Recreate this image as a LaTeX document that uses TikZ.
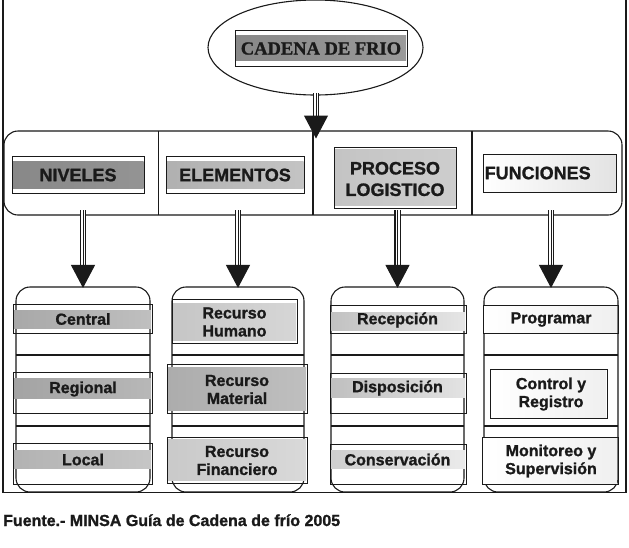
\documentclass[tikz,border=0pt]{standalone}
\usepackage{fontspec}
\setmainfont{Liberation Sans}
\newfontfamily\heavy{Liberation Sans Bold}[FakeBold=1.2]
\newfontfamily\serifbold{Liberation Serif Bold}[FakeBold=1.0]
\usetikzlibrary{shapes.geometric,arrows.meta,calc}
\definecolor{ink}{HTML}{1A1A1A}
\definecolor{gA}{HTML}{888888}
\definecolor{gB}{HTML}{B0B0B0}
\definecolor{gC}{HTML}{C4C4C4}
\tikzset{
  ln/.style={draw=ink, line width=1.1pt},
  outline/.style={draw=ink, line width=1pt, inner sep=0pt, fill=none},
  band/.style={draw=none, inner sep=0pt},
  colbox/.style={draw=ink, line width=1.1pt, rounded corners=14pt, inner sep=0pt},
  lbl/.style={font=\heavy\fontsize{16}{18}\selectfont, text=ink, align=center, inner sep=0pt},
  hdr/.style={font=\heavy\fontsize{18}{21.5}\selectfont, text=ink, align=center, inner sep=0pt},
  shaft/.style={draw=ink, line width=1.1pt, double=white, double distance=4pt, shorten >=21pt},
  arrowline/.style={draw=ink, line width=1pt, -{Triangle[width=24pt,length=23pt]}},
}
\begin{document}
\begin{tikzpicture}[x=1pt,y=-1pt]
\useasboundingbox (0,0) rectangle (629,547);
\fill[white] (0,0) rectangle (629,547);
% outer frame
\draw[ln] (3,-2) -- (3,492.5) -- (626,492.5) -- (626,-2);

% ellipse and title
\node[ellipse, draw=ink, line width=1.1pt, fill=white, minimum width=215pt, minimum height=95pt, inner sep=0pt] (ell) at (315.5,47.5) {};
\node[band, left color=gA, right color=gA!85!white, minimum width=170pt, minimum height=25pt] (tband) at (321,47.5) {};
\node[outline, minimum width=172pt, minimum height=36pt] (tbox) at (321,48) {};
\node[font=\serifbold\fontsize{18.5}{20}\selectfont, text=ink, inner sep=0pt] (title) at (321,48.5) {CADENA DE FRIO};

% banner
\node[colbox, fill=white, minimum width=618pt, minimum height=84pt] (banner) at (313,173) {};
\draw[ln] (158.5,131) -- (158.5,215);
\draw[ln] (313,131) -- (313,215);
\draw[ln] (472,131) -- (472,215);

% header boxes
\node[band, left color=gA, right color=gA!90!white, minimum width=131pt, minimum height=27pt] (hb1) at (78,174.5) {};
\node[outline, minimum width=132pt, minimum height=37pt] (h1box) at (78,174.5) {};
\node[hdr] (h1) at (78,175) {NIVELES};

\node[band, left color=gB, right color=gB!75!white, minimum width=137pt, minimum height=27pt] (hb2) at (235,174.5) {};
\node[outline, minimum width=138pt, minimum height=37pt] (h2box) at (235,174.5) {};
\node[hdr] (h2) at (235,175) {ELEMENTOS};

\node[band, left color=gC, right color=gC!85!white, minimum width=121pt, minimum height=56pt] (hb3) at (395,177.5) {};
\node[outline, minimum width=122pt, minimum height=61pt] (h3box) at (395,177.5) {};
\node[hdr] (h3) at (395,179) {PROCESO\\LOGISTICO};

\node[band, left color=white, right color=gray!22, minimum width=132pt, minimum height=37pt] (hb4) at (549.5,173) {};
\node[outline, minimum width=133pt, minimum height=38pt] (h4box) at (549.5,173) {};
\node[hdr, anchor=west] (h4) at (484.5,173) {FUNCIONES};

% columns
\node[colbox, minimum width=134pt, minimum height=205pt] (col1) at (83,389.5) {};
\node[colbox, minimum width=132pt, minimum height=205pt] (col2) at (238,389.5) {};
\node[colbox, minimum width=133pt, minimum height=205pt] (col3) at (397.5,389.5) {};
\node[colbox, minimum width=134pt, minimum height=205pt] (col4) at (551,389.5) {};

\foreach \a/\b in {16/150,172/304,331/464,484/618}{
  \draw[ln] (\a,355) -- (\b,355);
  \draw[ln] (\a,426) -- (\b,426);
}

% arrows
\coordinate (s0) at (316,93);
\coordinate (t0) at (316,138.5);
\draw[shaft] (s0) -- (t0);
\draw[arrowline] (s0) -- (t0);

\coordinate (s1) at (83,210);
\coordinate (s2) at (238,210);
\coordinate (s3) at (397.5,210);
\coordinate (s4) at (551,210);
\foreach \i in {1,2,3,4}{
  \draw[shaft] (s\i) -- ($(col\i.north)+(0,1.5)$);
  \draw[arrowline] (s\i) -- ($(col\i.north)+(0,1.5)$);
}

% column 1
\node[band, left color=gray!68, right color=gray!50, minimum width=137pt, minimum height=18pt] (b11) at (82.5,319) {};
\node[outline, minimum width=139pt, minimum height=29pt] (x11) at (82.5,318.5) {};
\node[lbl] (l11) at (83,319) {Central};
\node[band, left color=gray!72, right color=gray!56, minimum width=137pt, minimum height=20pt] (b12) at (82.5,388.5) {};
\node[outline, minimum width=139pt, minimum height=41pt] (x12) at (82.5,392.5) {};
\node[lbl] (l12) at (83,389) {Regional};
\node[band, left color=gray!60, right color=gray!45, minimum width=137pt, minimum height=18pt] (b13) at (82.5,459) {};
\node[outline, minimum width=139pt, minimum height=41pt] (x13) at (82.5,463.5) {};
\node[lbl] (l13) at (83,459.5) {Local};

% column 2
\node[band, left color=gray!45, right color=gray!32, minimum width=123pt, minimum height=37pt] (b21) at (234.5,321.5) {};
\node[outline, minimum width=125pt, minimum height=44pt] (x21) at (234.5,321) {};
\node[lbl] (l21) at (234.5,322) {Recurso\\Humano};
\node[band, left color=gray!65, right color=gray!50, minimum width=138pt, minimum height=43pt] (b22) at (237,388.5) {};
\node[outline, minimum width=140pt, minimum height=49pt] (x22) at (237,388.5) {};
\node[lbl] (l22) at (237,389.5) {Recurso\\Material};
\node[band, left color=gray!42, right color=gray!30, minimum width=138pt, minimum height=41pt] (b23) at (237,459.5) {};
\node[outline, minimum width=140pt, minimum height=46pt] (x23) at (237,460) {};
\node[lbl] (l23) at (237,460.5) {Recurso\\Financiero};

% column 3
\node[band, left color=gray!48, right color=gray!20, minimum width=134pt, minimum height=18pt] (b31) at (398,321) {};
\node[outline, minimum width=136pt, minimum height=28pt] (x31) at (398,319) {};
\node[lbl] (l31) at (397.5,320) {Recepción};
\node[band, left color=gray!50, right color=gray!22, minimum width=134pt, minimum height=19pt] (b32) at (398,387.5) {};
\node[outline, minimum width=136pt, minimum height=40pt] (x32) at (398,393) {};
\node[lbl] (l32) at (397.5,388) {Disposición};
\node[band, left color=gray!38, right color=gray!16, minimum width=134pt, minimum height=18pt] (b33) at (398,459) {};
\node[outline, minimum width=136pt, minimum height=40pt] (x33) at (398,464) {};
\node[lbl] (l33) at (397.5,459.5) {Conservación};

% column 4
\node[band, left color=white, right color=gray!12, minimum width=133pt, minimum height=26pt] (b41) at (550.5,319) {};
\node[outline, minimum width=135pt, minimum height=28pt] (x41) at (550.5,319) {};
\node[lbl] (l41) at (551,319.5) {Programar};
\node[band, left color=white, right color=gray!12, minimum width=115pt, minimum height=47pt] (b42) at (548.5,393.5) {};
\node[outline, minimum width=117pt, minimum height=49pt] (x42) at (548.5,393.5) {};
\node[lbl] (l42) at (551,394) {Control y\\Registro};
\node[band, left color=white, right color=gray!12, minimum width=134pt, minimum height=45pt] (b43) at (550,460.5) {};
\node[outline, minimum width=136pt, minimum height=47pt] (x43) at (550,460.5) {};
\node[lbl] (l43) at (551,461) {Monitoreo y\\Supervisión};

% caption
\node[anchor=base west, inner sep=0pt, font=\heavy\fontsize{16}{18}\selectfont, text=ink] (cap) at (3,526) {Fuente.- MINSA Guía de Cadena de frío 2005};
\end{tikzpicture}
\end{document}
